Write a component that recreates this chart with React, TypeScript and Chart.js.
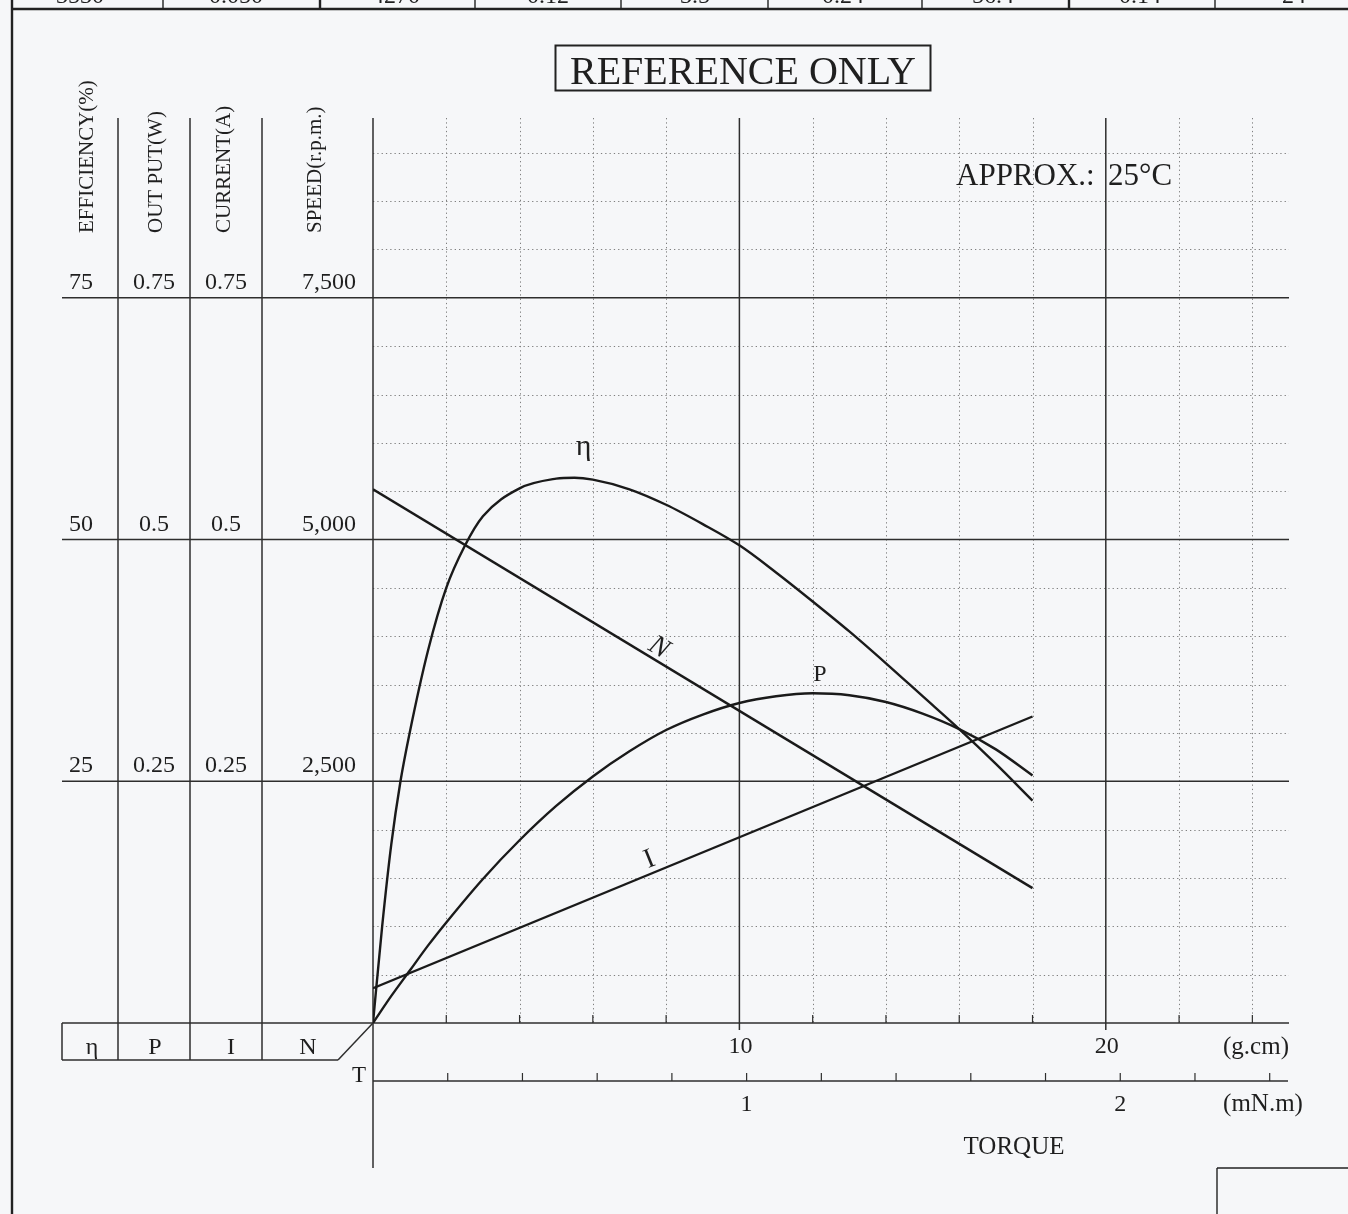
import React, { useEffect, useRef } from "react";
import { Chart, registerables } from "chart.js";

Chart.register(...registerables);

// ---- data ----
// torque in g.cm for the efficiency curve
const effTorque = [0, 0.25, 0.5, 0.75, 1, 1.5, 2, 2.5, 3, 4, 5, 5.5, 6, 7, 8, 9, 10, 11, 12, 13, 14, 15, 16, 17, 18];
// efficiency (%)
const efficiencyPct = [0, 10, 18.5, 25, 30, 38.5, 45, 49.3, 52.4, 55.3, 56.3, 56.4, 56.2, 55.2, 53.6, 51.6, 49.4, 46.6, 43.6, 40.5, 37.2, 33.8, 30.4, 26.8, 23.0];
// torque in g.cm for the output curve
const outTorque = [0, 0.5, 1, 1.5, 2, 3, 4, 5, 6, 7, 8, 9, 10, 11, 12, 13, 14, 15, 16, 17, 18];
// output (W)
const outputW = [0, 0.028, 0.054, 0.08, 0.104, 0.149, 0.189, 0.2245, 0.255, 0.281, 0.303, 0.319, 0.331, 0.338, 0.341, 0.339, 0.332, 0.32, 0.304, 0.283, 0.256];
// straight lines: speed & current
const lineTorque = [0, 18];
const speedRpm = [5520, 1395];
const currentA = [0.036, 0.317];

// axis tick labels
const levelValues = [2500, 5000, 7500];
const effTicks = ["25", "50", "75"];
const outTicks = ["0.25", "0.5", "0.75"];
const curTicks = ["0.25", "0.5", "0.75"];
const speedTicks = ["2,500", "5,000", "7,500"];
const gcmLabels = [10, 20];
const mNmLabels = [1, 2];
const columnHeaders = ["EFFICIENCY(%)", "OUT PUT(W)", "CURRENT(A)", "SPEED(r.p.m.)"];
const boxSymbols = ["η", "P", "I", "N"];
const headerRowValues = ["3530", "0.050", "4270", "0.12", "3.5", "0.24", "56.4", "0.14", "24"];

// scale factors to the speed axis (75% = 0.75 W = 0.75 A = 7,500 rpm)
const EFF_K = 100;
const OUT_K = 10000;
const CUR_K = 10000;
const GCM_PER_MNM = 1 / 0.0980665;

const SERIF = '"Liberation Serif", "Times New Roman", serif';
const INK = "#1f1f1f";

function txt(
  ctx: CanvasRenderingContext2D,
  s: string,
  x: number,
  y: number,
  size: number,
  align: CanvasTextAlign = "center",
  style = ""
) {
  ctx.save();
  ctx.font = `${style} ${size}px ${SERIF}`;
  ctx.textAlign = align;
  ctx.textBaseline = "alphabetic";
  ctx.fillStyle = INK;
  ctx.fillText(s, x, y);
  ctx.restore();
}

function rtxt(
  ctx: CanvasRenderingContext2D,
  s: string,
  x: number,
  y: number,
  size: number,
  angleDeg: number,
  style = ""
) {
  ctx.save();
  ctx.translate(x, y);
  ctx.rotate((angleDeg * Math.PI) / 180);
  ctx.font = `${style} ${size}px ${SERIF}`;
  ctx.fillStyle = INK;
  ctx.textAlign = "center";
  ctx.textBaseline = "middle";
  ctx.fillText(s, 0, 0);
  ctx.restore();
}

function line(ctx: CanvasRenderingContext2D, x1: number, y1: number, x2: number, y2: number) {
  ctx.beginPath();
  ctx.moveTo(x1, y1);
  ctx.lineTo(x2, y2);
  ctx.stroke();
}

const sheetPlugin = {
  id: "motorSheet",
  beforeDraw(chart: any) {
    const ctx = chart.ctx as CanvasRenderingContext2D;
    ctx.save();
    ctx.fillStyle = "#f6f7f9";
    ctx.fillRect(0, 0, chart.width, chart.height);
    ctx.restore();
  },
  beforeDatasetsDraw(chart: any) {
    const ctx = chart.ctx as CanvasRenderingContext2D;
    const xs = chart.scales.x;
    const ys = chart.scales.y;
    const { left, right, top, bottom } = chart.chartArea;
    ctx.save();
    // dotted grid
    ctx.strokeStyle = "#808080";
    ctx.lineWidth = 1;
    ctx.setLineDash([1.3, 3]);
    for (let t = 2; t < 25; t += 2) {
      if (t % 10 === 0) continue;
      const x = Math.round(xs.getPixelForValue(t)) + 0.5;
      line(ctx, x, top, x, bottom);
    }
    for (let v = 500; v <= 9000; v += 500) {
      if (v % 2500 === 0) continue;
      const y = Math.round(ys.getPixelForValue(v)) + 0.5;
      line(ctx, left, y, right, y);
    }
    ctx.setLineDash([]);
    // solid grid
    ctx.strokeStyle = "#2e2e2e";
    ctx.lineWidth = 1.5;
    for (const t of gcmLabels) {
      const x = xs.getPixelForValue(t);
      line(ctx, x, top, x, bottom + 7);
    }
    for (const v of levelValues) {
      const y = ys.getPixelForValue(v);
      line(ctx, 62, y, right, y);
    }
    // left axis
    const x0 = xs.getPixelForValue(0);
    line(ctx, x0, top, x0, 1168);
    // column separators
    for (const cx of [118, 190, 262]) line(ctx, cx, top, cx, 1060);
    // g.cm axis
    const y0 = ys.getPixelForValue(0);
    line(ctx, 62, y0, right, y0);
    ctx.lineWidth = 1.2;
    for (let t = 2; t < 25; t += 2) {
      if (t % 10 === 0) continue;
      const x = xs.getPixelForValue(t);
      line(ctx, x, y0 - 8, x, y0);
    }
    ctx.lineWidth = 1.5;
    // symbol box
    line(ctx, 62, y0, 62, 1060);
    line(ctx, 62, 1060, 338, 1060);
    line(ctx, 338, 1060, x0, y0);
    // mN.m axis
    const ym = 1081;
    line(ctx, x0, ym, right - 1, ym);
    ctx.lineWidth = 1.2;
    for (let m = 0.2; m * GCM_PER_MNM < 25; m += 0.2) {
      const x = xs.getPixelForValue(m * GCM_PER_MNM);
      line(ctx, x, ym - 8, x, ym);
    }
    ctx.restore();
  },
  afterDatasetsDraw(chart: any) {
    const ctx = chart.ctx as CanvasRenderingContext2D;
    const xs = chart.scales.x;
    const ys = chart.scales.y;
    ctx.save();

    // frame pieces of the data sheet
    ctx.strokeStyle = "#222";
    ctx.lineWidth = 2.4;
    line(ctx, 12, 0, 12, 1214);
    line(ctx, 12, 9, 1348, 9);
    const dividers = [163, 320, 475, 621, 768, 922, 1069, 1215];
    dividers.forEach((dx) => {
      ctx.lineWidth = dx === 320 || dx === 1069 ? 2.4 : 1.4;
      line(ctx, dx, 0, dx, 9);
    });
    const centers = [80, 236, 396, 548, 695, 843, 993, 1140, 1294];
    headerRowValues.forEach((s, i) => txt(ctx, s, centers[i], 3, 24));
    ctx.lineWidth = 1.4;
    line(ctx, 1217, 1168, 1348, 1168);
    line(ctx, 1217, 1168, 1217, 1214);

    // REFERENCE ONLY box
    ctx.lineWidth = 2;
    ctx.strokeRect(555.5, 45.5, 375, 45);
    txt(ctx, "REFERENCE ONLY", 743, 84, 40);

    // column headers
    const headerX = [93, 162, 230, 321];
    columnHeaders.forEach((h, i) => {
      ctx.save();
      ctx.translate(headerX[i], 233);
      ctx.rotate(-Math.PI / 2);
      ctx.font = `21px ${SERIF}`;
      ctx.fillStyle = INK;
      ctx.textAlign = "left";
      ctx.textBaseline = "alphabetic";
      ctx.fillText(h, 0, 0);
      ctx.restore();
    });

    // level tick labels
    levelValues.forEach((v, i) => {
      const y = ys.getPixelForValue(v) - 9;
      txt(ctx, effTicks[i], 81, y, 24);
      txt(ctx, outTicks[i], 154, y, 24);
      txt(ctx, curTicks[i], 226, y, 24);
      txt(ctx, speedTicks[i], 356, y, 24, "right");
    });

    // symbol box labels
    const symX = [92, 155, 231, 308];
    boxSymbols.forEach((s, i) => txt(ctx, s, symX[i], 1054, 24));
    txt(ctx, "T", 359, 1082, 23);

    // torque axes labels
    gcmLabels.forEach((t) => txt(ctx, String(t), xs.getPixelForValue(t) + 1, 1053, 24));
    txt(ctx, "(g.cm)", 1256, 1054, 25);
    mNmLabels.forEach((m) => txt(ctx, String(m), xs.getPixelForValue(m * GCM_PER_MNM), 1111, 24));
    txt(ctx, "(mN.m)", 1263, 1111, 25);
    txt(ctx, "TORQUE", 1014, 1154, 25);

    // annotation
    txt(ctx, "APPROX.:", 956, 185, 31, "left");
    txt(ctx, "25°C", 1108, 185, 31, "left");

    // curve labels
    txt(ctx, "η", xs.getPixelForValue(5.75), ys.getPixelForValue(5870), 30);
    txt(ctx, "P", xs.getPixelForValue(12.2), ys.getPixelForValue(3540), 24);
    rtxt(ctx, "N", xs.getPixelForValue(7.8), ys.getPixelForValue(3880), 28, 31, "italic");
    rtxt(ctx, "I", xs.getPixelForValue(7.55), ys.getPixelForValue(1690), 28, -22);

    ctx.restore();
  },
};

export default function App() {
  const canvasRef = useRef<HTMLCanvasElement | null>(null);

  useEffect(() => {
    document.body.style.margin = "0";
    const canvas = canvasRef.current;
    if (!canvas) return;
    const curveStyle = {
      borderColor: "#1a1a1a",
      borderWidth: 2.4,
      pointRadius: 0,
      fill: false,
    };
    const chart = new Chart(canvas, {
      type: "line",
      data: {
        datasets: [
          {
            label: "η",
            data: effTorque.map((t, i) => ({ x: t, y: efficiencyPct[i] * EFF_K })),
            cubicInterpolationMode: "monotone",
            ...curveStyle,
          },
          {
            label: "P",
            data: outTorque.map((t, i) => ({ x: t, y: outputW[i] * OUT_K })),
            cubicInterpolationMode: "monotone",
            ...curveStyle,
          },
          {
            label: "N",
            data: lineTorque.map((t, i) => ({ x: t, y: speedRpm[i] })),
            tension: 0,
            ...curveStyle,
          },
          {
            label: "I",
            data: lineTorque.map((t, i) => ({ x: t, y: currentA[i] * CUR_K })),
            tension: 0,
            ...curveStyle,
          },
        ],
      },
      options: {
        responsive: false,
        animation: false,
        devicePixelRatio: 1,
        layout: { padding: { left: 373, right: 59, top: 118, bottom: 191 } },
        plugins: { legend: { display: false }, tooltip: { enabled: false } },
        scales: {
          x: { type: "linear", min: 0, max: 25, display: false },
          y: { type: "linear", min: 0, max: 9360, display: false },
        },
      } as any,
      plugins: [sheetPlugin as any],
    });
    return () => chart.destroy();
  }, []);

  return (
    <div style={{ position: "absolute", left: 0, top: 0, width: 1348, height: 1214 }}>
      <canvas ref={canvasRef} width={1348} height={1214} style={{ width: 1348, height: 1214, display: "block" }} />
    </div>
  );
}
